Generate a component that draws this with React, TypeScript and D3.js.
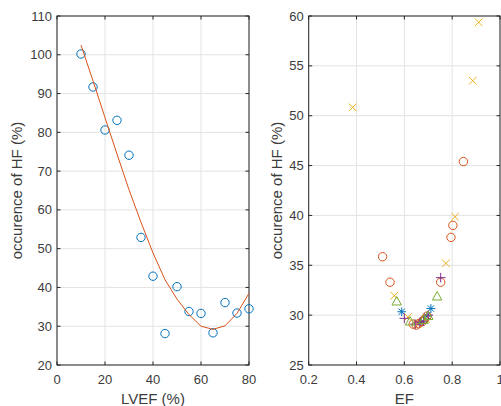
import React from "react";
import * as d3 from "d3";

// ---------- data ----------
const lvefX = [10, 15, 20, 25, 30, 35, 40, 45, 50, 55, 60, 65, 70, 75, 80];
const lvefY = [100.2, 91.7, 80.6, 83.1, 74.1, 52.9, 42.9, 28.1, 40.2, 33.8, 33.3, 28.3, 36.1, 33.4, 34.5];
const fitY = [102.5, 93.3, 83.8, 74.4, 65.2, 56.8, 48.9, 42.0, 37.0, 33.0, 30.0, 29.2, 30.1, 33.3, 38.5];

const leftXTicks = [0, 20, 40, 60, 80];
const leftYTicks = [20, 30, 40, 50, 60, 70, 80, 90, 100, 110];
const rightXTicks = [0.2, 0.4, 0.6, 0.8, 1];
const rightYTicks = [25, 30, 35, 40, 45, 50, 55, 60];

// right plot series (EF, occurrence)
const circEF = [0.847, 0.509, 0.54, 0.795, 0.803, 0.752, 0.637, 0.65, 0.66, 0.675, 0.685, 0.695];
const circHF = [45.4, 35.86, 33.3, 37.8, 39.0, 33.3, 29.1, 29.0, 29.15, 29.35, 29.6, 29.9];
const crossEF = [0.384, 0.886, 0.911, 0.812, 0.774, 0.558, 0.615, 0.655, 0.69];
const crossHF = [50.84, 53.51, 59.37, 39.87, 35.2, 31.95, 29.8, 29.1, 29.6];
const plusEF = [0.752, 0.6, 0.645, 0.665, 0.68, 0.7];
const plusHF = [33.76, 29.68, 29.1, 29.3, 29.4, 30.0];
const triEF = [0.568, 0.737, 0.624, 0.7, 0.68];
const triHF = [31.35, 31.85, 29.34, 29.9, 29.5];
const starEF = [0.589, 0.711, 0.67, 0.695];
const starHF = [30.34, 30.66, 29.3, 29.9];

// ---------- styling ----------
const AX = "#262626";
const TXT = "#3c3c3c";
const GRID = "#e3e3e3";
const FONT = "'Liberation Sans', Arial, Helvetica, sans-serif";
const BLUE = "#0072BD";
const ORANGE = "#D95319";
const YELLOW = "#EDB120";
const PURPLE = "#7E2F8E";
const GREEN = "#77AC30";

type AxProps = {
  x0: number; x1: number; y0: number; y1: number;
  xs: d3.ScaleLinear<number, number>; ys: d3.ScaleLinear<number, number>;
  xt: number[]; yt: number[]; xlabel: string; ylabel: string; ylabelX: number;
  fmtX: (v: number) => string;
};

function Axes(p: AxProps) {
  const tl = 3.5;
  return (
    <g fontFamily={FONT}>
      {p.xt.map((t) => (
        <line key={"gx" + t} x1={p.xs(t)} x2={p.xs(t)} y1={p.y0} y2={p.y1} stroke={GRID} strokeWidth={1} />
      ))}
      {p.yt.map((t) => (
        <line key={"gy" + t} x1={p.x0} x2={p.x1} y1={p.ys(t)} y2={p.ys(t)} stroke={GRID} strokeWidth={1} />
      ))}
      <rect x={p.x0} y={p.y1} width={p.x1 - p.x0} height={p.y0 - p.y1} fill="none" stroke={AX} strokeWidth={1} />
      {p.xt.map((t) => (
        <g key={"tx" + t}>
          <line x1={p.xs(t)} x2={p.xs(t)} y1={p.y0} y2={p.y0 - tl} stroke={AX} />
          <line x1={p.xs(t)} x2={p.xs(t)} y1={p.y1} y2={p.y1 + tl} stroke={AX} />
          <text x={p.xs(t)} y={p.y0 + 19} textAnchor="middle" fontSize={13} fill={TXT}>{p.fmtX(t)}</text>
        </g>
      ))}
      {p.yt.map((t) => (
        <g key={"ty" + t}>
          <line x1={p.x0} x2={p.x0 + tl} y1={p.ys(t)} y2={p.ys(t)} stroke={AX} />
          <line x1={p.x1} x2={p.x1 - tl} y1={p.ys(t)} y2={p.ys(t)} stroke={AX} />
          <text x={p.x0 - 5} y={p.ys(t) + 4.6} textAnchor="end" fontSize={13} fill={TXT}>{t}</text>
        </g>
      ))}
      <text x={(p.x0 + p.x1) / 2} y={p.y0 + 38.5} textAnchor="middle" fontSize={15} fill={TXT}>{p.xlabel}</text>
      <text transform={`translate(${p.ylabelX},${(p.y0 + p.y1) / 2}) rotate(-90)`} textAnchor="middle" fontSize={15} fill={TXT}>{p.ylabel}</text>
    </g>
  );
}

export default function App() {
  // left
  const L = { x0: 57, x1: 249, y0: 365, y1: 16 };
  const lx = d3.scaleLinear().domain([0, 80]).range([L.x0, L.x1]);
  const ly = d3.scaleLinear().domain([20, 110]).range([L.y0, L.y1]);
  const fitLine = d3.line<number>().x((_, i) => lx(lvefX[i])).y((d) => ly(d))(fitY) || "";

  // right
  const R = { x0: 308.7, x1: 500, y0: 365, y1: 16 };
  const rx = d3.scaleLinear().domain([0.2, 1]).range([R.x0, R.x1]);
  const ry = d3.scaleLinear().domain([25, 60]).range([R.y0, R.y1]);

  const xm = 3.8;
  const pm = 4.8;
  const sm = 4.4;

  return (
    <svg width={501} height={406} style={{ position: "absolute", left: 0, top: 0, background: "#fff" }}>
      <rect width={501} height={406} fill="#fff" />
      <Axes {...L} xs={lx} ys={ly} xt={leftXTicks} yt={leftYTicks} xlabel="LVEF (%)" ylabel="occurence of HF (%)" ylabelX={22} fmtX={(v) => String(v)} />
      {lvefX.map((x, i) => (
        <circle key={"c" + i} cx={lx(x)} cy={ly(lvefY[i])} r={4.2} fill="none" stroke={BLUE} strokeWidth={1} />
      ))}
      <path d={fitLine} fill="none" stroke={ORANGE} strokeWidth={1} />

      <Axes {...R} xs={rx} ys={ry} xt={rightXTicks} yt={rightYTicks} xlabel="EF" ylabel="occurence of HF (%)" ylabelX={282} fmtX={(v) => String(v)} />
      <g>
        {starEF.map((x, i) => {
          const cx = rx(x), cy = ry(starHF[i]);
          const d2 = sm * 0.72;
          return (
            <path key={"s" + i} d={`M${cx - sm},${cy}L${cx + sm},${cy}M${cx},${cy - sm}L${cx},${cy + sm}M${cx - d2},${cy - d2}L${cx + d2},${cy + d2}M${cx - d2},${cy + d2}L${cx + d2},${cy - d2}`} stroke={BLUE} strokeWidth={1} fill="none" />
          );
        })}
        {circEF.map((x, i) => (
          <circle key={"o" + i} cx={rx(x)} cy={ry(circHF[i])} r={4.2} fill="none" stroke={ORANGE} strokeWidth={1} />
        ))}
        {crossEF.map((x, i) => {
          const cx = rx(x), cy = ry(crossHF[i]);
          return (
            <path key={"x" + i} d={`M${cx - xm},${cy - xm}L${cx + xm},${cy + xm}M${cx - xm},${cy + xm}L${cx + xm},${cy - xm}`} stroke={YELLOW} strokeWidth={1} fill="none" />
          );
        })}
        {plusEF.map((x, i) => {
          const cx = rx(x), cy = ry(plusHF[i]);
          return (
            <path key={"p" + i} d={`M${cx - pm},${cy}L${cx + pm},${cy}M${cx},${cy - pm}L${cx},${cy + pm}`} stroke={PURPLE} strokeWidth={1} fill="none" />
          );
        })}
        {triEF.map((x, i) => {
          const cx = rx(x), cy = ry(triHF[i]);
          return (
            <path key={"t" + i} d={`M${cx},${cy - 5.2}L${cx + 4.7},${cy + 3.3}L${cx - 4.7},${cy + 3.3}Z`} stroke={GREEN} strokeWidth={1} fill="none" />
          );
        })}
      </g>
    </svg>
  );
}
